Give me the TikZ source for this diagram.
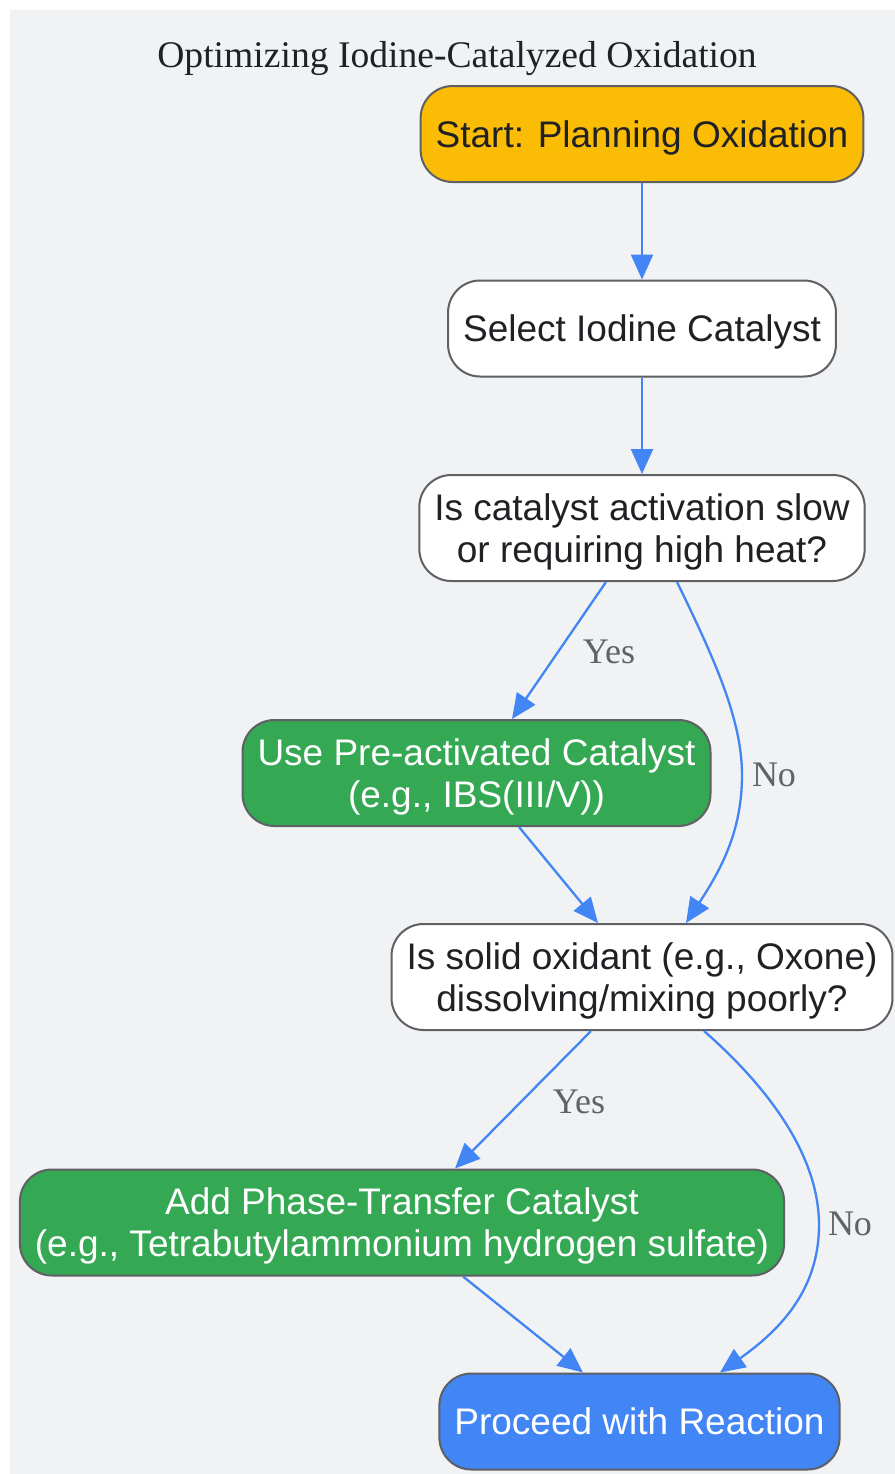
\documentclass[tikz,border=0pt]{standalone}
\usepackage{fontspec}
\setmainfont{Liberation Serif}
\newfontfamily\boxfont{Liberation Sans}
\usetikzlibrary{arrows.meta,calc}
\definecolor{bggray}{HTML}{F1F2F4}
\definecolor{edgeblue}{HTML}{4285F4}
\definecolor{bordergray}{HTML}{5F6063}
\definecolor{textdark}{HTML}{202124}
\definecolor{lblgray}{HTML}{5F6368}
\definecolor{gyellow}{HTML}{FBBC05}
\definecolor{ggreen}{HTML}{34A853}
\definecolor{gblue}{HTML}{4285F4}
\tikzset{
  flowbox/.style={draw=bordergray, line width=1pt, rounded corners=16pt,
    font=\boxfont\fontsize{18.5}{21}\selectfont, text=textdark, align=center,
    inner xsep=7.5pt, inner ysep=4pt, minimum height=48pt, text depth=-3.5pt},
  twoline/.style={minimum height=53pt},
  whitebox/.style={flowbox, fill=white},
  greenbox/.style={flowbox, fill=ggreen, text=white},
  yellowbox/.style={flowbox, fill=gyellow},
  bluebox/.style={flowbox, fill=gblue, text=white},
  arr/.style={draw=edgeblue, line width=1.15pt, -{Triangle[length=12.5pt,width=11pt]}},
  lbl/.style={font=\fontsize{18}{20}\selectfont, text=lblgray},
}
\begin{document}
\begin{tikzpicture}[x=0.5pt,y=-0.5pt]
\useasboundingbox (0,0) rectangle (895,1474);
\fill[bggray] (10,10) rectangle (895,1474);
\node[font=\fontsize{18.8}{21}\selectfont, text=textdark] (title) at (457,59) {Optimizing Iodine-Catalyzed Oxidation};

\node[yellowbox] (start) at (642,134) {Start: Planning Oxidation};
\node[whitebox] (sel) at (642,328.5) {Select Iodine Catalyst};
\node[whitebox, twoline] (q1) at (642,528) {Is catalyst activation slow\\or requiring high heat?};
\node[greenbox, twoline] (pre) at (476.5,773) {Use Pre-activated Catalyst\\(e.g., IBS(III/V))};
\node[whitebox, twoline] (q2) at (642,977) {Is solid oxidant (e.g., Oxone)\\dissolving/mixing poorly?};
\node[greenbox, twoline] (ptc) at (402,1222.5) {Add Phase-Transfer Catalyst\\(e.g., Tetrabutylammonium hydrogen sulfate)};
\node[bluebox] (proc) at (639.5,1421.5) {Proceed with Reaction};

\draw[arr] (start) -- (sel);
\draw[arr] (sel) -- (q1);
\draw[arr] ($(q1.south)+(-36,0)$) -- ($(pre.north)+(35.5,0)$);
\draw[arr] ($(pre.south)+(42.5,0)$) -- ($(q2.north)+(-44,0)$);
\draw[arr] ($(q1.south)+(35,0)$) .. controls (715,660) and (742,720) .. (742,775)
  .. controls (742,830) and (722,868) .. ($(q2.north)+(44,0)$);
\draw[arr] ($(q2.south)+(-51,0)$) -- ($(ptc.north)+(53,0)$);
\draw[arr] ($(ptc.south)+(61,0)$) -- ($(proc.north)+(-56.5,0)$);
\draw[arr] ($(q2.south)+(62,0)$) .. controls (760,1080) and (819,1150) .. (819,1225)
  .. controls (819,1290) and (780,1330) .. ($(proc.north)+(80.5,0)$);

\node[lbl] (yes1) at (609,652) {Yes};
\node[lbl] (no1) at (774,775) {No};
\node[lbl] (yes2) at (579,1102) {Yes};
\node[lbl] (no2) at (850,1224) {No};
\end{tikzpicture}
\end{document}
